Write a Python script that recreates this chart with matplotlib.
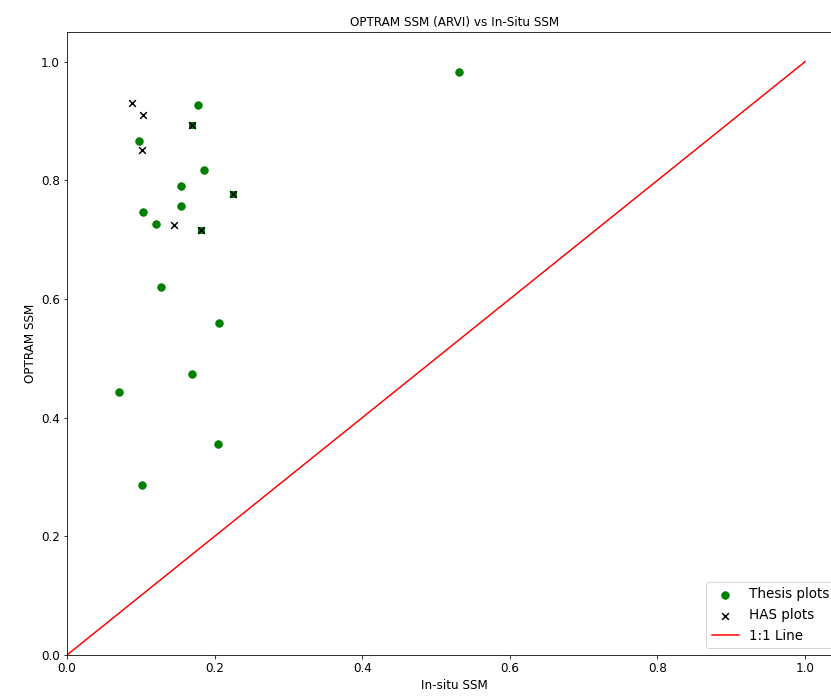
import numpy as np
import matplotlib.pyplot as plt

# Thesis plots (green dots)
thesis_x = [0.531, 0.178, 0.097, 0.186, 0.154, 0.154, 0.103, 0.120, 0.127, 0.206, 0.169, 0.071, 0.204, 0.101]
thesis_y = [0.982, 0.927, 0.866, 0.818, 0.791, 0.756, 0.746, 0.727, 0.620, 0.560, 0.473, 0.444, 0.355, 0.287]

# plots present in both sets (drawn under the HAS crosses)
both_x = [0.170, 0.225, 0.182]
both_y = [0.893, 0.777, 0.717]

# HAS plots (black crosses)
has_x = [0.088, 0.103, 0.101, 0.145] + both_x
has_y = [0.930, 0.910, 0.851, 0.724] + both_y

line = [0, 1]

fig = plt.figure(figsize=(831/72, 699/72), dpi=72)
ax = fig.add_axes([67/831, 44/699, 775/831, 623/699])

ax.scatter(thesis_x, thesis_y, color="green", s=55, label="Thesis plots")
ax.scatter(both_x, both_y, color="green", marker="s", s=45)
ax.scatter(has_x, has_y, color="black", marker="x", s=45, label="HAS plots")
ax.plot(line, line, color="red", label="1:1 Line")

ax.set_xlim(0, 1.05)
ax.set_ylim(0, 1.05)
ax.set_title("OPTRAM SSM (ARVI) vs In-Situ SSM", fontsize=12)
ax.set_xlabel("In-situ SSM", fontsize=12)
ax.set_ylabel("OPTRAM SSM", fontsize=12)
ax.tick_params(labelsize=12)
ax.legend(loc="lower right", fontsize=13.5)

fig.savefig("out.png", dpi=72)
